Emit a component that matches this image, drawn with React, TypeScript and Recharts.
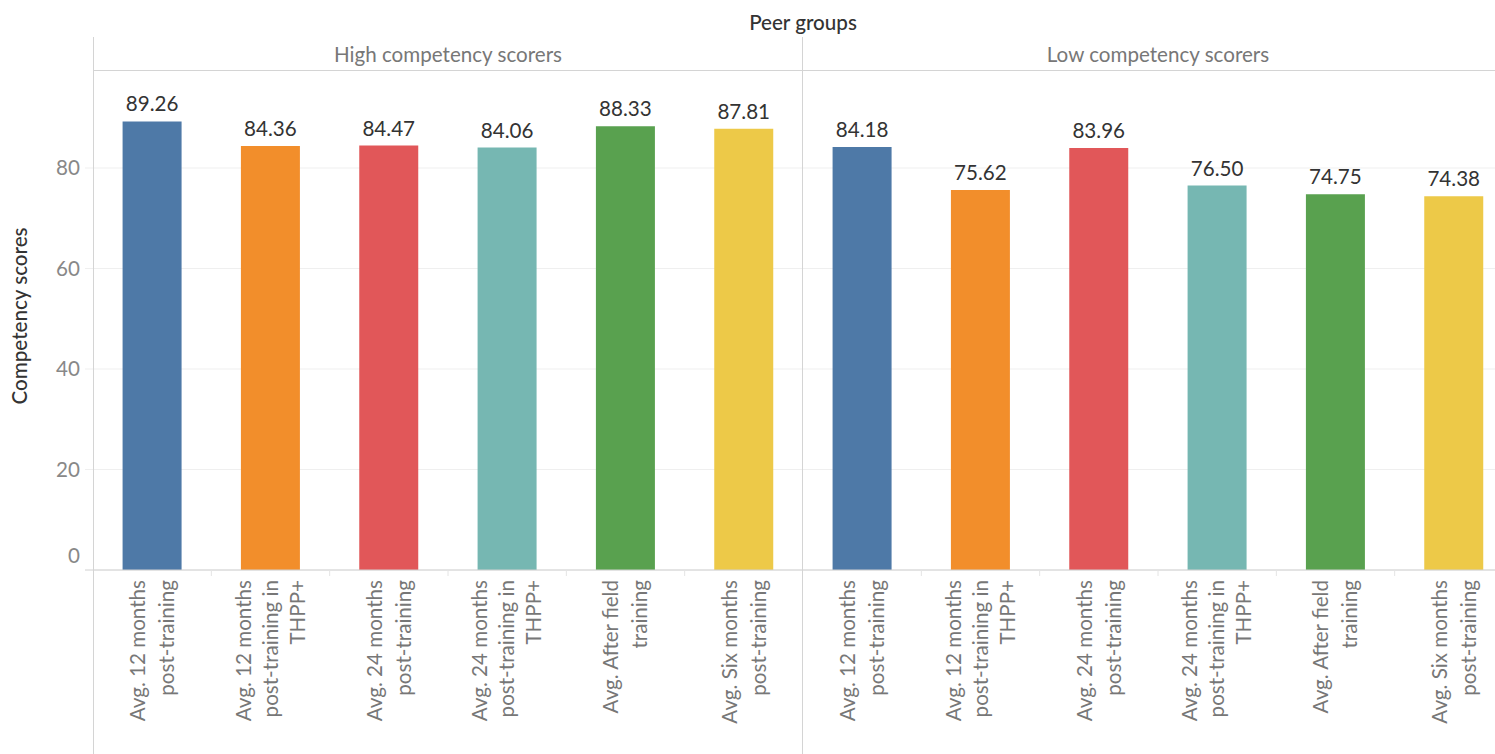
import React from 'react';
import { BarChart, Bar, XAxis, YAxis, CartesianGrid, LabelList, Cell } from 'recharts';

// Peer-group panels and the six measures shown in each
const peerGroups = ['High competency scorers', 'Low competency scorers'];
const measures = [
  'Avg. 12 months post-training',
  'Avg. 12 months post-training in THPP+',
  'Avg. 24 months post-training',
  'Avg. 24 months post-training in THPP+',
  'Avg. After field training',
  'Avg. Six months post-training',
];
const highScores = [89.26, 84.36, 84.47, 84.06, 88.33, 87.81];
const lowScores = [84.18, 75.62, 83.96, 76.5, 74.75, 74.38];
const measureColors = ['#4e79a7', '#f28e2b', '#e15759', '#76b7b2', '#59a14f', '#edc948'];
const yTicks = [0, 20, 40, 60, 80];

const FONT = 'Lato, "Open Sans", sans-serif';
const AXIS_W = 93;
const PANEL_W = 710;
const HEADER_TOP = 37;
const PLOT_TOP = 70;
const PLOT_H = 500;
const CHART_H = 754 - PLOT_TOP;
const FS = 20.6;

// greedy word wrap, roughly how the axis labels break
function wrapLabel(text: string, maxChars = 16): string[] {
  const lines: string[] = [];
  let cur = '';
  for (const word of text.split(' ')) {
    const next = cur ? cur + ' ' + word : word;
    if (next.length > maxChars && cur) {
      lines.push(cur);
      cur = word;
    } else {
      cur = next;
    }
  }
  if (cur) lines.push(cur);
  return lines;
}

function MeasureTick(props: any) {
  const { x, payload, index } = props;
  const lines = wrapLabel(payload.value);
  const pitch = lines.length === 2 ? 29 : 27;
  const band = PANEL_W / measures.length;
  return (
    <g>
      {index < measures.length - 1 && (
        <line x1={x + band / 2} x2={x + band / 2} y1={PLOT_H} y2={PLOT_H + 6} stroke="#e4e4e4" />
      )}
      <text
        transform={`translate(${x},${PLOT_H + 10}) rotate(-90)`}
        textAnchor="end"
        fill="#777"
        fontSize={FS}
        fontFamily={FONT}
      >
        {lines.map((l, i) => (
          <tspan key={i} x={0} y={(i - (lines.length - 1) / 2) * pitch + 0.35 * FS}>
            {l}
          </tspan>
        ))}
      </text>
    </g>
  );
}

function ScoreTick(props: any) {
  const { y, payload } = props;
  const isZero = payload.value === 0;
  return (
    <g>
      <line x1={AXIS_W - 8} x2={AXIS_W} y1={y} y2={y} stroke={isZero ? '#d0d0d0' : '#efefef'} />
      <text
        x={AXIS_W - 13}
        y={isZero ? y - 14 : y}
        dy="0.355em"
        textAnchor="end"
        fill="#888"
        fontSize={FS}
        fontFamily={FONT}
      >
        {payload.value}
      </text>
    </g>
  );
}

function Panel({ scores, showAxis, left }: { scores: number[]; showAxis: boolean; left: number }) {
  const data = measures.map((m, i) => ({ measure: m, score: scores[i] }));
  return (
    <div style={{ position: 'absolute', left, top: PLOT_TOP }}>
      <BarChart
        width={(showAxis ? AXIS_W : 0) + PANEL_W}
        height={CHART_H}
        data={data}
        margin={{ top: 0, right: 0, bottom: 0, left: 0 }}
        barCategoryGap="25%"
      >
        <CartesianGrid vertical={false} stroke="#efefef" />
        <XAxis
          dataKey="measure"
          height={CHART_H - PLOT_H}
          interval={0}
          tickLine={false}
          axisLine={{ stroke: '#d0d0d0' }}
          tick={<MeasureTick />}
        />
        <YAxis
          hide={!showAxis}
          width={AXIS_W}
          domain={[0, 99.5]}
          ticks={yTicks}
          tickLine={false}
          axisLine={false}
          tick={<ScoreTick />}
        />
        <Bar dataKey="score" isAnimationActive={false}>
          {data.map((d, i) => (
            <Cell key={d.measure} fill={measureColors[i]} />
          ))}
          <LabelList
            dataKey="score"
            position="top"
            offset={10}
            formatter={(v: any) => Number(v).toFixed(2)}
            fill="#333"
            fontSize={FS}
            fontFamily={FONT}
          />
        </Bar>
      </BarChart>
    </div>
  );
}

export default function App() {
  const divider = AXIS_W + PANEL_W;
  return (
    <div
      style={{
        position: 'absolute',
        left: 0,
        top: 0,
        width: 1495,
        height: 754,
        overflow: 'hidden',
        background: '#fff',
        fontFamily: FONT,
      }}
    >
      <Panel scores={highScores} showAxis left={0} />
      <Panel scores={lowScores} showAxis={false} left={divider} />
      <svg width={1495} height={754} style={{ position: 'absolute', left: 0, top: 0, pointerEvents: 'none' }}>
        <line x1={AXIS_W + 0.5} x2={AXIS_W + 0.5} y1={HEADER_TOP} y2={754} stroke="#d4d4d4" />
        <line x1={divider - 0.5} x2={divider - 0.5} y1={HEADER_TOP} y2={754} stroke="#d4d4d4" />
        <line x1={AXIS_W} x2={1495} y1={PLOT_TOP + 0.5} y2={PLOT_TOP + 0.5} stroke="#d4d4d4" />
        <text x={divider} y={30} textAnchor="middle" fill="#333" fontSize={FS} fontWeight={500} fontFamily={FONT}>
          Peer groups
        </text>
        <text
          transform={`translate(27,316) rotate(-90)`}
          textAnchor="middle"
          fill="#333"
          fontSize={FS}
          fontWeight={500}
          fontFamily={FONT}
        >
          Competency scores
        </text>
        {peerGroups.map((g, i) => (
          <text
            key={g}
            x={AXIS_W + PANEL_W * i + PANEL_W / 2}
            y={62}
            textAnchor="middle"
            fill="#777"
            fontSize={FS}
            fontFamily={FONT}
          >
            {g}
          </text>
        ))}
      </svg>
    </div>
  );
}
